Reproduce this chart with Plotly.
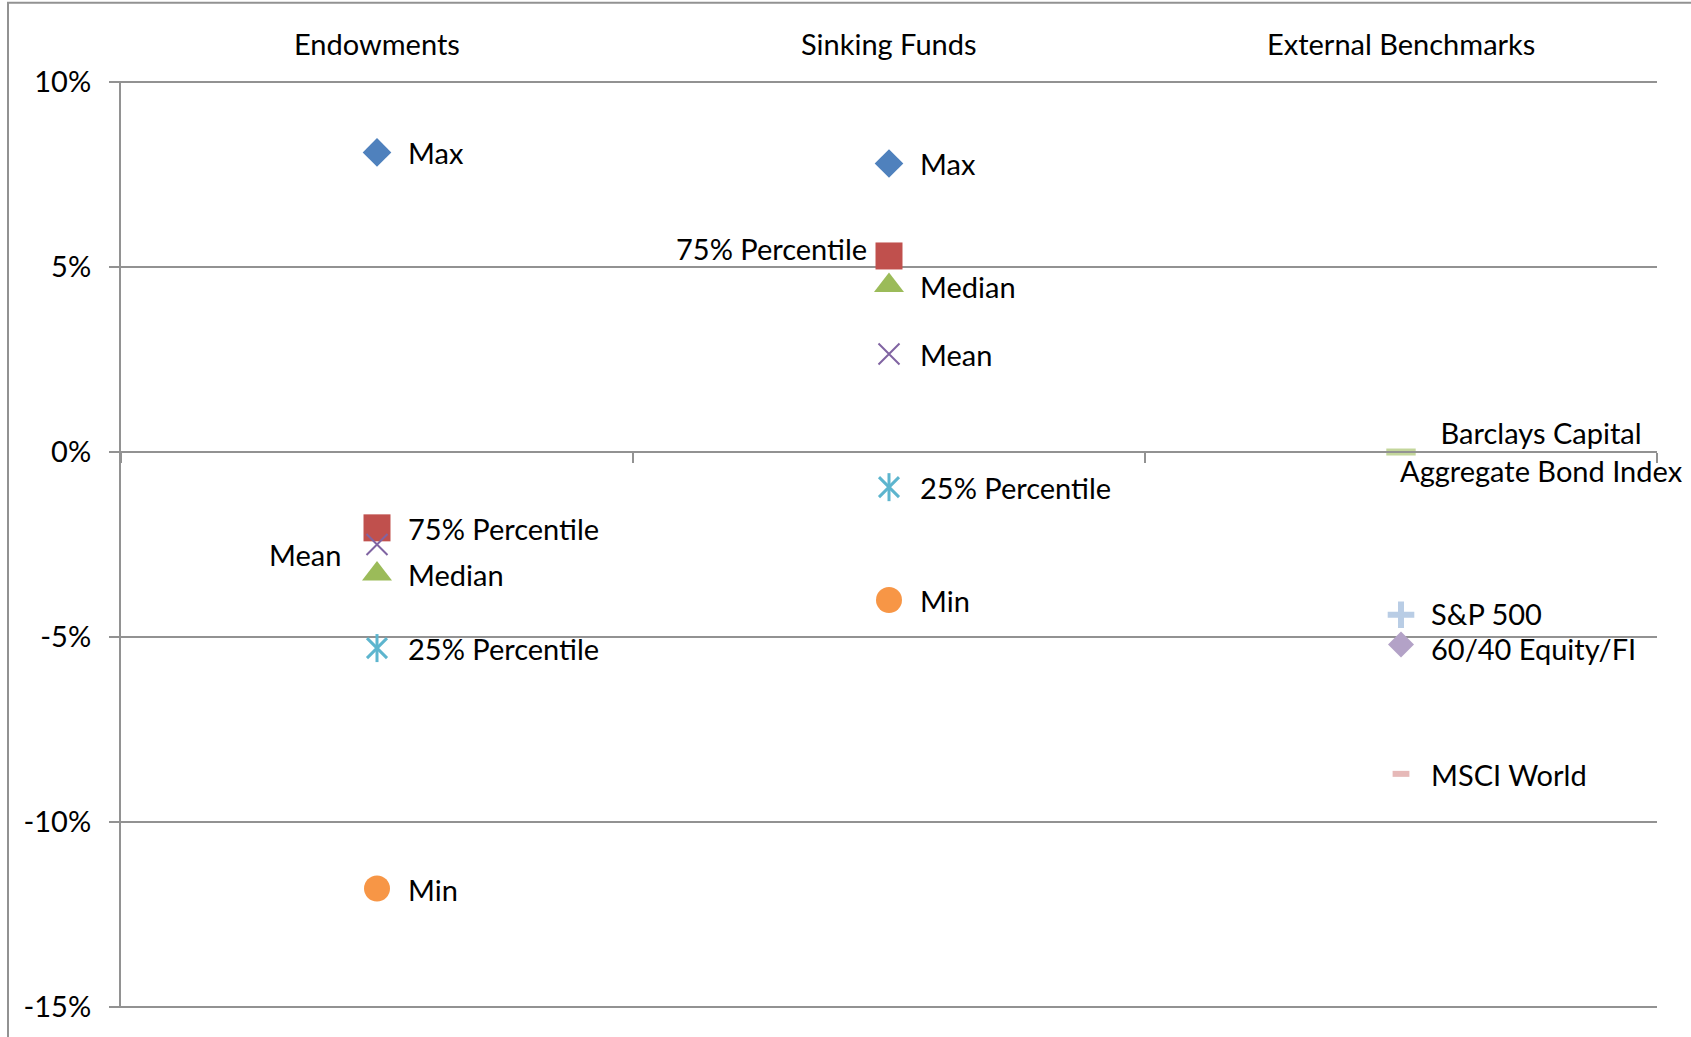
import plotly.graph_objects as go

# ---------------- data ----------------
categories = ["Endowments", "Sinking Funds", "External Benchmarks"]
stat_labels = ["Max", "75% Percentile", "Median", "Mean", "25% Percentile", "Min"]
endowments = [0.081, -0.0205, -0.033, -0.025, -0.053, -0.118]
sinking_funds = [0.078, 0.053, 0.045, 0.0265, -0.0095, -0.040]
benchmark_labels = ["Barclays Capital<br>Aggregate Bond Index", "S&P 500", "60/40 Equity/FI", "MSCI World"]
benchmarks = [0.0, -0.044, -0.052, -0.087]
y_ticks = [-0.15, -0.10, -0.05, 0.0, 0.05, 0.10]
y_tick_text = ["-15%", "-10%", "-5%", "0%", "5%", "10%"]

# ---------------- styles ----------------
FONT = "Lato"
FS = 29
GRID = "#929292"
stat_styles = [
    dict(symbol="diamond", size=22, color="#4F81BD"),
    dict(symbol="square", size=27, color="#C0504D"),
    dict(symbol="triangle-up", size=26, color="#9BBB59"),
    dict(symbol="x-thin-open", size=21, color="#8064A2", lw=2),
    dict(symbol="x-thin-open", size=20, color="#5DB5CE", lw=3, extra="line-ns-open"),
    dict(symbol="circle", size=26, color="#F79646"),
]
bench_styles = [
    dict(symbol="line-ew-open", size=21, color="#C3D69B", lw=7),
    dict(symbol="cross-thin-open", size=19, color="#B9CDE5", lw=6),
    dict(symbol="diamond", size=20, color="#B3A2C7"),
    dict(symbol="line-ew-open", size=12, color="#E6B9B8", lw=6),
]
# label placement: (xanchor, xshift, yshift)
default_place = ("left", 29, -0.5)
special_place = {
    (0, 3): ("right", -34, -10),
    (1, 1): ("right", -20, 7),
}
bench_place = [("left", -2, 1), ("left", 29, 1.5), ("left", 29, -4), ("left", 29, -1)]

fig = go.Figure()
annotations = []

group_values = [endowments, sinking_funds]
for i, lab in enumerate(stat_labels):
    st = stat_styles[i]
    xs = [0.5, 1.5]
    ys = [group_values[0][i], group_values[1][i]]
    syms = [st["symbol"]] + ([st["extra"]] if "extra" in st else [])
    for sym in syms:
        fig.add_trace(go.Scatter(
            x=xs, y=ys, mode="markers", name=lab, showlegend=False,
            marker=dict(symbol=sym, size=st["size"], color=st["color"],
                        line=dict(width=st.get("lw", 0), color=st["color"])),
            cliponaxis=False, hoverinfo="skip"))
    for g in range(2):
        xa, xsh, ysh = special_place.get((g, i), default_place)
        annotations.append(dict(x=xs[g], y=ys[g], xref="x", yref="y", text=lab,
                                showarrow=False, xanchor=xa, yanchor="middle",
                                xshift=xsh, yshift=ysh,
                                font=dict(family=FONT, size=FS, color="black")))

for j, lab in enumerate(benchmark_labels):
    st = bench_styles[j]
    fig.add_trace(go.Scatter(
        x=[2.5], y=[benchmarks[j]], mode="markers", name=lab, showlegend=False,
        marker=dict(symbol=st["symbol"], size=st["size"], color=st["color"],
                    line=dict(width=st.get("lw", 0), color=st["color"])),
        cliponaxis=False, hoverinfo="skip"))
    xa, xsh, ysh = bench_place[j]
    annotations.append(dict(x=2.5, y=benchmarks[j], xref="x", yref="y", text=lab,
                            showarrow=False, xanchor=xa, yanchor="middle", align="center",
                            xshift=xsh, yshift=ysh, borderpad=0,
                            font=dict(family=FONT, size=FS, color="black")))

# category labels on top
for k, c in enumerate(categories):
    annotations.append(dict(x=k + 0.5, y=1, xref="x", yref="paper", text=c,
                            showarrow=False, xanchor="center", yanchor="middle",
                            yshift=38, font=dict(family=FONT, size=FS, color="black")))

ymin, ymax = -0.15, 0.10
zero_pos = (0 - ymin) / (ymax - ymin)

fig.update_layout(
    width=1691, height=1037,
    margin=dict(l=121, r=34, t=81, b=29),
    paper_bgcolor="white", plot_bgcolor="white",
    font=dict(family=FONT, size=FS, color="black"),
    showlegend=False,
    annotations=annotations,
    xaxis=dict(range=[0, 3], tickvals=[0, 1, 2, 3], showticklabels=False,
               ticks="outside", ticklen=10, tickwidth=2, tickcolor=GRID,
               showline=True, linecolor=GRID, linewidth=2,
               showgrid=False, zeroline=False,
               anchor="free", position=zero_pos, fixedrange=True),
    yaxis=dict(range=[ymin - 0.0003, ymax + 0.0003], tickvals=y_ticks, ticktext=y_tick_text,
               ticks="outside", ticklen=10, tickwidth=2, tickcolor=GRID,
               showline=True, linecolor=GRID, linewidth=2,
               showgrid=True, gridcolor=GRID, gridwidth=2, zeroline=False,
               ticklabelstandoff=12,
               tickfont=dict(family=FONT, size=FS, color="black"), fixedrange=True),
    shapes=[dict(type="rect", xref="paper", yref="paper",
                 x0=(8 - 121) / 1536, x1=(1720 - 121) / 1536,
                 y0=-0.06, y1=1 + (81 - 3) / 925,
                 line=dict(color=GRID, width=2), fillcolor="rgba(0,0,0,0)", layer="below")],
)

fig.write_html("out.html",
               config={"displayModeBar": False},
               post_script="document.body.style.margin='0';document.body.style.padding='0';")
